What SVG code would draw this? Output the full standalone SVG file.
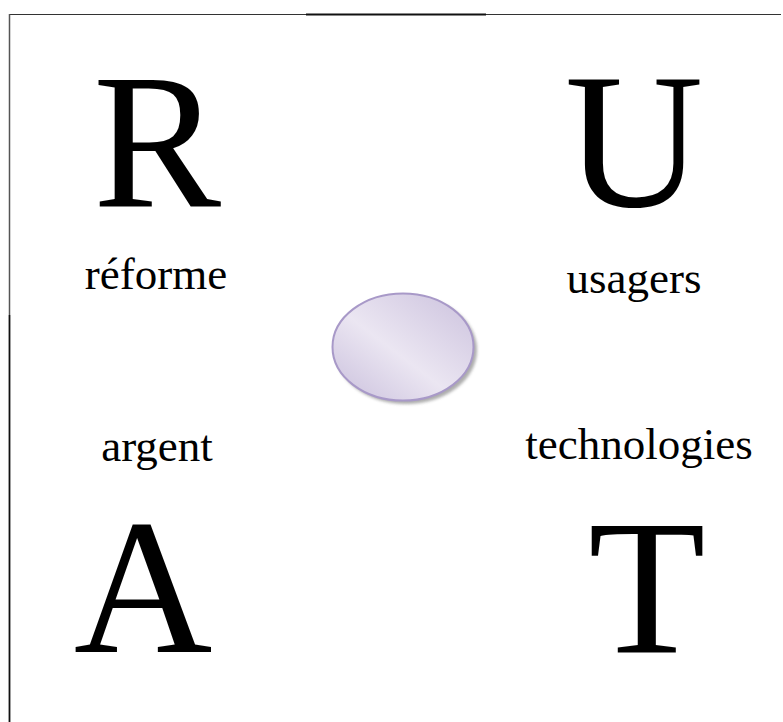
<svg xmlns="http://www.w3.org/2000/svg" width="783" height="722" viewBox="0 0 783 722">
<style>
.big{font-family:"Liberation Serif","Times New Roman",serif;font-size:192px;fill:#000;text-anchor:middle}
.lbl{font-family:"Liberation Serif","Times New Roman",serif;font-size:45px;fill:#000;text-anchor:middle}
</style>
<defs>
<linearGradient id="g" x1="0" y1="1" x2="1" y2="0">
<stop offset="0" stop-color="#c9bfdc"/>
<stop offset="0.45" stop-color="#ebe6f2"/>
<stop offset="1" stop-color="#cbc1dd"/>
</linearGradient>
<filter id="sh" x="-20%" y="-20%" width="140%" height="140%">
<feGaussianBlur stdDeviation="1.5"/>
</filter>
</defs>
<g id="frame">
<line x1="9" y1="14.5" x2="781" y2="14.5" stroke="#333" stroke-width="1.2"/>
<line x1="306" y1="14.5" x2="486" y2="14.5" stroke="#111" stroke-width="2.2"/>
<line x1="9.5" y1="14" x2="9.5" y2="315" stroke="#555" stroke-width="1.5"/>
<line x1="9.5" y1="315" x2="9.5" y2="722" stroke="#111" stroke-width="1.8"/>
</g>
<g id="center">
<ellipse cx="406" cy="350" rx="71" ry="54" fill="#777" opacity="0.6" filter="url(#sh)"/>
<ellipse cx="403" cy="347" rx="70.5" ry="53.5" fill="url(#g)" stroke="#a899c8" stroke-width="2"/>
</g>
<g id="R"><text class="big" x="157" y="206">R</text><text class="lbl" x="156" y="289">réforme</text></g>
<g id="U"><text class="big" x="634" y="206">U</text><text class="lbl" x="634" y="293">usagers</text></g>
<g id="A"><text class="lbl" x="157" y="461">argent</text><text class="big" x="143" y="652">A</text></g>
<g id="T"><text class="lbl" x="639" y="459">technologies</text><text class="big" x="647" y="652">T</text></g>
<g id="connectors"/>
</svg>
